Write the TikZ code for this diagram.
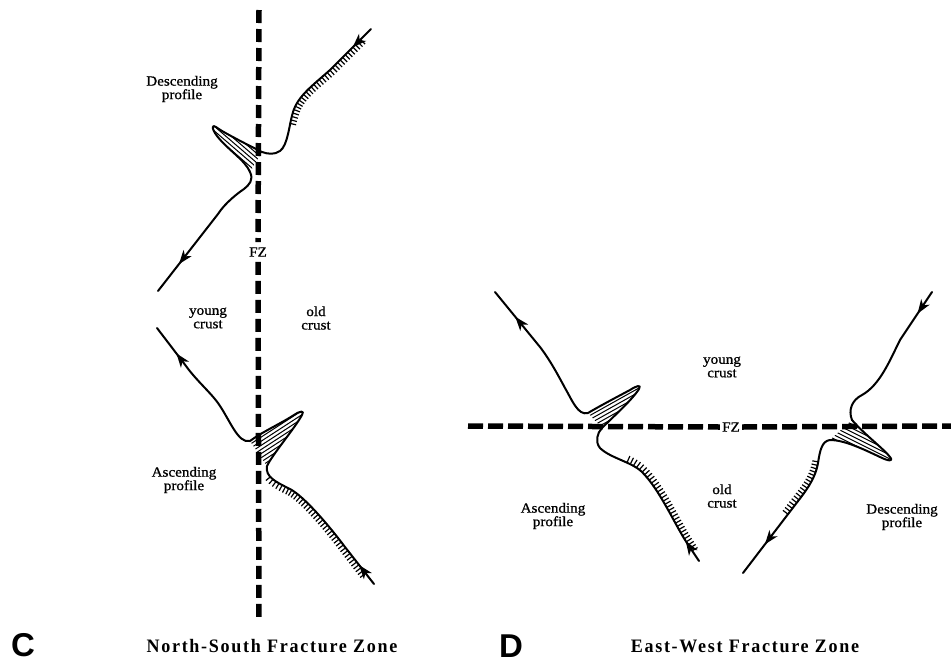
\documentclass[tikz,border=0pt]{standalone}
\usepackage{fontspec}
\setmainfont{Liberation Serif}
\newfontfamily\lblfont[FakeStretch=1.08,FakeBold=0.9]{Liberation Serif}
\newfontfamily\capfont[LetterSpace=9,FakeStretch=0.95]{Liberation Serif}
\newfontfamily\letfont{Liberation Sans}
\usetikzlibrary{arrows.meta,decorations.markings}
\tikzset{
  prof/.style={line width=2pt, line join=round, line cap=round},
  fz/.style={line width=5.5pt, dash pattern=on 13pt off 6pt},
  fzh/.style={line width=5.5pt, dash pattern=on 15pt off 5pt},
  lbl/.style={font=\lblfont\fontsize{14}{13.5}\selectfont, align=center, inner sep=0pt},
  capt/.style={font=\capfont\bfseries\fontsize{19}{20}\selectfont, inner sep=0pt},
  letter/.style={font=\letfont\bfseries\fontsize{33}{33}\selectfont, inner sep=0pt},
  hatchline/.style={line width=1pt},
  arrowsat/.style 2 args={postaction={decorate,decoration={markings,
      mark=at position #1 with {\arrow{Stealth[length=14pt,width=10pt,inset=4pt]}},
      mark=at position #2 with {\arrow{Stealth[length=14pt,width=10pt,inset=4pt]}}}}},
  ticksleft/.style={postaction={decorate,decoration={markings,
      mark=between positions 0.03 and 0.97 step 3.6pt with {\draw[line width=1.2pt] (0pt,0pt) -- (0pt,6.5pt);}}}},
  ticksright/.style={postaction={decorate,decoration={markings,
      mark=between positions 0.03 and 0.97 step 3.6pt with {\draw[line width=1.2pt] (0pt,0pt) -- (0pt,-6.5pt);}}}},
}
\begin{document}
\begin{tikzpicture}[x=1pt,y=-1pt]
\useasboundingbox (0,0) rectangle (951,670);

% ---------- Panel C : North-South fracture zone ----------
\coordinate (nsTop) at (259,10);
\coordinate (nsBot) at (259,622);
\node[lbl, inner ysep=5pt, inner xsep=1pt] (fz1) at (258,252) {FZ};
\draw[fz] (nsTop) -- (fz1.north);
\draw[fz] (fz1.south) -- (nsBot);

% descending profile (upper)
\coordinate (d1s) at (371,29);
\coordinate (d1e) at (158,291);
\draw[prof, arrowsat={26pt}{-34pt}] (d1s) -- (330,70)
  .. controls (312,86) and (298,96) .. (293,112)
  .. controls (289,125) and (288,145) .. (280,151)
  .. controls (274,155) and (268,154) .. (262,152)
  .. controls (240,141) and (221,131) .. (216,127)
  .. controls (212,124) and (211,128) .. (217,136)
  .. controls (228,150) and (245,160) .. (250,172)
  .. controls (254,180) and (249,185) .. (244,189)
  .. controls (238,193) and (225,203) .. (218,214) -- (d1e);
\path[ticksleft] (363,37) -- (330,70)
  .. controls (312,86) and (298,96) .. (293,112)
  .. controls (291,118) and (290,122) .. (289,127);
\begin{scope}
  \clip (262,152) .. controls (240,141) and (221,131) .. (216,127)
        .. controls (212,124) and (211,128) .. (217,136)
        .. controls (228,150) and (245,160) .. (250,172) -- cycle;
  \foreach \k in {-7,...,7}
    \draw[hatchline] ({214-2.3*\k-50},{126+2.7*\k-43}) -- ++(100,86);
\end{scope}

% ascending profile (lower)
\coordinate (a1s) at (374,584);
\coordinate (a1e) at (157,328);
\draw[prof, arrowsat={24pt}{-32pt}] (a1s) -- (345,547)
  .. controls (330,527) and (305,497) .. (290,489)
  .. controls (276,482) and (265,477) .. (267,466)
  .. controls (272,455) and (295,428) .. (302,415)
  .. controls (305,410) and (300,411) .. (294,415)
  .. controls (280,424) and (262,432) .. (250,441)
  .. controls (238,444) and (230,420) .. (218,403)
  .. controls (210,392) and (196,380) .. (186,366) -- (a1e);
\path[ticksleft] (368,577) -- (345,547)
  .. controls (330,527) and (305,497) .. (290,489)
  .. controls (280,484) and (272,480) .. (268,472);
\begin{scope}
  \clip (267,466) .. controls (272,455) and (295,428) .. (302,415)
        .. controls (305,410) and (300,411) .. (294,415)
        .. controls (280,424) and (262,432) .. (250,441) -- cycle;
  \foreach \k in {-7,...,7}
    \draw[hatchline] ({303+1.9*\k-50},{414+2.9*\k+32.5}) -- ++(100,-65);
\end{scope}

\node[lbl] (descC) at (182,89) {Descending\\profile};
\node[lbl] (youngC) at (208,318) {young\\crust};
\node[lbl] (oldC) at (316,318) {old\\crust};
\node[lbl] (ascC) at (184,480) {Ascending\\profile};

\node[letter] (C) at (23,645) {C};
\node[capt] (capC) at (272,646) {North-South Fracture Zone};

% ---------- Panel D : East-West fracture zone ----------
\coordinate (ewL) at (468,426);
\coordinate (ewR) at (951,426);
\node[lbl, inner xsep=2pt, inner ysep=1pt] (fz2) at (731,427) {FZ};
\draw[fzh] (ewL) -- (fz2.west);
\draw[fzh] (fz2.east) -- (ewR);

% ascending profile (left)
\coordinate (a2s) at (699,561);
\coordinate (a2e) at (495,292);
\draw[prof, arrowsat={24pt}{-32pt}] (a2s) -- (687,543)
  .. controls (675,525) and (660,490) .. (642,472)
  .. controls (632,462) and (610,458) .. (600,448)
  .. controls (595,442) and (597,433) .. (602,428)
  .. controls (615,415) and (632,400) .. (639,389)
  .. controls (642,384) and (636,386) .. (630,390)
  .. controls (615,398) and (598,407) .. (588,413)
  .. controls (578,416) and (572,400) .. (565,388)
  .. controls (558,375) and (550,360) .. (540,347) -- (a2e);
\path[ticksright] (694,554) -- (687,543)
  .. controls (675,525) and (660,490) .. (642,472)
  .. controls (635,465) and (628,462) .. (622,460);
\begin{scope}
  \clip (602,428) .. controls (615,415) and (632,400) .. (639,389)
        .. controls (642,384) and (636,386) .. (630,390)
        .. controls (615,398) and (598,407) .. (588,413) -- cycle;
  \foreach \k in {-7,...,7}
    \draw[hatchline] ({640+1.7*\k-60},{387+3.05*\k+34}) -- ++(100,-56);
\end{scope}

% descending profile (right)
\coordinate (d2s) at (932,292);
\coordinate (d2e) at (743,573);
\draw[prof, arrowsat={26pt}{-36pt}] (d2s) -- (900,340)
  .. controls (890,360) and (880,385) .. (862,395)
  .. controls (852,400) and (848,410) .. (852,420)
  .. controls (865,435) and (884,449) .. (890,457)
  .. controls (894,462) and (888,461) .. (880,457)
  .. controls (865,450) and (845,440) .. (830,440)
  .. controls (822,441) and (820,450) .. (818,463)
  .. controls (815,480) and (805,492) .. (795,505) -- (d2e);
\path[ticksright] (819,460)
  .. controls (816,480) and (805,492) .. (795,505) -- (786,517);
\begin{scope}
  \clip (852,420) .. controls (865,435) and (884,449) .. (890,457)
        .. controls (894,462) and (888,461) .. (880,457)
        .. controls (865,450) and (845,440) .. (830,440) -- cycle;
  \foreach \k in {-7,...,7}
    \draw[hatchline] ({892-1.56*\k-60},{460+3.13*\k-30}) -- ++(100,50);
\end{scope}

\node[lbl] (youngD) at (722,367) {young\\crust};
\node[lbl] (oldD) at (722,496) {old\\crust};
\node[lbl] (ascD) at (553,516) {Ascending\\profile};
\node[lbl] (descD) at (902,517) {Descending\\profile};

\node[letter] (D) at (511,646) {D};
\node[capt] (capD) at (745,646) {East-West Fracture Zone};
\end{tikzpicture}
\end{document}
